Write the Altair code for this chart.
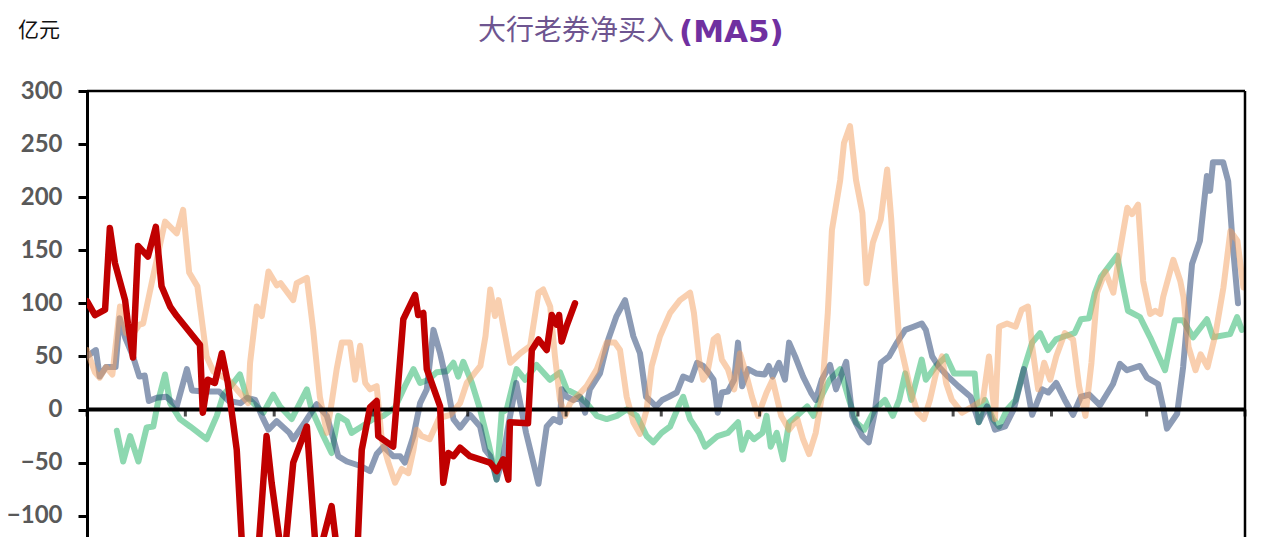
import altair as alt
import pandas as pd

# ---- data: (day of year, value in 亿元) ----
month_starts = [0, 31, 59, 90, 120, 151, 181, 212, 243, 273, 304, 334, 365]
y_ticks = [-100, -50, 0, 50, 100, 150, 200, 250, 300]

red = [(0,102),(2.5,89),(5.7,94),(7.2,171),(8.8,138),(12,103),(12.9,81),(14.5,49),(16.1,154),(19.2,144),
       (21.7,172),(23.5,116),(26.2,97),(28.3,88),(35.6,61),(36.5,-3),(38.1,28),(40.3,25),(42.5,53),(44.4,25),
       (47.2,-38),(48.9,-130),(53,-175),(56.6,-25),(58.2,-69),(61.9,-150),(65,-50),(69.3,-16),(72.4,-145),
       (77.1,-91),(79.7,-155),(85,-150),(86.6,-38),(89.2,2),(91.3,8),(91.8,-25),(96.5,-35),(99.7,85),(103.4,108),
       (104.4,89),(106,91),(107.1,38),(111.3,3),(112.3,-69),(113.9,-41),(115.5,-44),(117.6,-36),(120.7,-44),
       (127,-50),(129.1,-58),(131.2,-47),(132.8,-66),(133.3,-12),(139,-13),(140.2,56),(142.3,66),(144.9,56),
       (146.5,89),(148,80),(148.8,89),(149.6,64),(151.2,79),(153.8,100)]

peach = [(0,56),(2.5,35),(4,30),(6,40),(8,33),(10.4,97),(12.3,72),(14.2,70),(16.5,80),(17.7,81),(20.8,125),
         (24.6,177),(28.3,166),(30.3,188),(32.2,129),(34.8,116),(37.7,50),(39.8,36),(44.5,28),(49.2,12),(50.8,6),
         (51.4,44),(53.5,97),(55.1,88),(57.2,130),(59.8,117),(61,119),(65,103),(66.1,119),(69.3,124),(71.3,75),
         (73.4,12),(75.6,-22),(77.1,6),(78.7,38),(80.3,63),(82.9,63),(84.5,28),(86.1,60),(87.7,25),(89.2,19),
         (91.3,22),(92.9,-28),(95,-50),(97.1,-69),(99.2,-56),(101.3,-60),(102.9,-38),(103.9,-19),(105.5,-25),
         (108,-28),(111,-8),(114.5,-5),(117.6,6),(119.7,25),(124,41),(125.6,69),(127.1,113),(128.6,88),
         (129.7,103),(133.4,44),(136.6,53),(139.7,60),(142.3,110),(143.8,113),(146,97),(147.5,50),(149.1,9),
         (150.7,-6),(152.3,6),(154.4,12),(157.5,22),(160.7,38),(163.8,63),(166.4,63),(168,56),(170.1,12),
         (172.2,-12),(174.3,-23),(176.4,0),(178,41),(180.6,69),(183.8,91),(186.9,103),(190.1,110),(191.3,91),
         (192.9,47),(194.2,28),(195.5,34),(197.5,66),(198.8,69),(200.1,47),(202,38),(204,19),(205.8,53),
         (207.7,34),(209.6,12),(211.5,-6),(214.2,16),(216.1,28),(218.8,-6),(221.3,-19),(223.9,-9),(225.7,-28),
         (227.6,-42),(229.7,-22),(231.6,12),(233.5,91),(234.8,169),(237.4,216),(238.6,251),(240.5,267),
         (242.4,216),(244.4,185),(245.7,119),(247.7,157),(250.2,179),(252.2,226),(253.5,179),(254.7,122),
         (256,66),(257.9,41),(259.8,16),(261.8,-3),(263.8,-9),(265.7,9),(267.6,34),(269.5,50),(270.8,25),
         (272.6,9),(275.8,-3),(279.2,3),(282.4,9),(284.3,50),(286.2,-9),(287.5,78),(290,81),(292.7,78),
         (294.6,94),(296.6,97),(297.9,60),(299.8,19),(301.7,44),(303.6,28),(305.5,50),(308.2,72),(310.8,66),
         (312.7,22),(314.7,-6),(316.6,44),(318.4,110),(321,130),(323.5,110),(325.6,150),(327.9,190),(329.4,184),
         (331.3,193),(332.9,121),(335.1,90),(336.7,93),(338.3,90),(339.2,106),(342.4,141),(344.6,121),
         (345.6,106),(347.2,59),(349.4,37),(351,52),(353.2,40),(355.7,71),(358.2,115),(360.4,168),(362.6,159),
         (364.5,115)]

blue = [(0,50),(2.8,56),(4,31),(6,40),(9,40),(10.3,86),(12,68),(14.5,50),(16.5,31),(18.2,32),(19.5,8),(22,11),
        (25,12),(28.3,3),(31.5,38),(33.1,18),(36.8,17),(41.6,17),(44.7,8),(48.4,6),(50.5,11),(53,9),(55.1,-6),
        (57.2,-19),(59.8,-11),(63.8,-22),(65,-28),(68.7,-12),(72.4,5),(75.6,-6),(79.2,-44),(81.9,-49),(86,-53),
        (89.2,-58),(91.3,-42),(93.4,-35),(96.5,-44),(98.7,-44),(100.2,-50),(102.9,-25),(105,6),(107.1,19),
        (109.2,75),(111.3,53),(113.4,25),(115.5,-9),(117.6,-17),(120.7,-5),(123.9,-16),(125.5,-38),(127.1,-44),
        (129.1,-66),(131.2,-45),(132.5,-20),(135.3,25),(138.4,-22),(142.3,-70),(144.9,-16),(147,-9),(149.1,-12),
        (149.6,19),(151.2,12),(153.3,9),(155.4,12),(157,-3),(158.5,19),(161.7,34),(164.3,66),(166.9,88),
        (169.6,103),(172.2,69),(174.3,53),(176.2,12),(179.4,3),(181.3,9),(183.4,12),(185.9,16),(187.9,31),
        (190.4,28),(192.3,44),(194.2,41),(196.1,34),(197.5,28),(198.8,-3),(200.1,16),(202,17),(204,28),
        (205.2,63),(206.5,22),(208.4,38),(210.9,34),(213.6,33),(214.9,41),(216.1,31),(218.1,44),(220,28),
        (221.3,63),(223.2,50),(225.7,31),(228.2,16),(229.7,9),(231.6,28),(234.2,42),(236.1,19),(239.3,45),
        (241.2,-6),(244.4,-25),(246.4,-31),(248.3,-3),(250.2,44),(252.8,50),(255.3,63),(257.9,75),(260.5,78),
        (263.1,81),(264.4,75),(266.4,50),(268.3,41),(271.4,31),(274.6,22),(278.5,12),(281.1,-12),(283.7,3),
        (286.2,-19),(289.4,-16),(292.1,0),(295.3,38),(297.9,-5),(301.1,19),(303,16),(305.5,25),(308.2,9),
        (310.8,-5),(313.3,12),(315.9,14),(319.3,4),(323.4,24),(325.6,43),(327.8,37),(331.9,41),(334.1,30),
        (337.6,24),(339.2,2),(340.4,-18),(343.6,-4),(345.5,40),(348.3,137),(350.8,159),(353,220),(354,206),
        (354.9,233),(358.1,233),(359.7,215),(361.2,153),(362.8,100)]

green = [(9.4,-20),(11.4,-49),(13.6,-25),(16.2,-49),(18.8,-17),(20.9,-16),(22.5,9),(24.6,33),(26.2,6),
         (29.3,-9),(32.5,-16),(37.7,-28),(40.9,-6),(43,14),(44.5,19),(48.2,33),(50.3,12),(52.4,6),(55.6,-3),
         (58.7,14),(60.8,3),(64.5,-9),(69.3,19),(70.8,0),(74.5,-25),(77.1,-41),(79.2,-6),(81.9,-11),(83.4,-22),
         (86.6,-16),(90.2,-9),(93.4,-6),(97.1,2),(100.2,22),(102.9,38),(105,25),(107.6,28),(110.2,35),
         (113.4,36),(115.5,44),(117,31),(118.6,45),(121.3,25),(123.9,0),(126.5,-31),(129.1,-66),(130.7,-3),
         (132.3,0),(135.4,38),(138.1,28),(141.7,42),(145.9,28),(149.1,35),(151.2,19),(154.4,14),(157.5,6),
         (160.7,-6),(163.8,-9),(167,-6),(170.1,0),(173.3,-6),(176.4,-25),(178.5,-31),(181.1,-22),(183.8,-16),
         (186.9,6),(187.9,12),(190.1,-9),(192.9,-22),(194.8,-35),(198.8,-25),(202,-22),(205.2,-12),(206.5,-38),
         (208.4,-22),(210.2,-28),(212.9,-22),(214.2,-6),(215.5,-35),(217.4,-22),(219.4,-47),(221.3,-12),
         (223.8,-6),(227,3),(229,-6),(230.9,9),(234.1,28),(237.4,38),(239.9,12),(242.4,-12),(245,-19),
         (248.3,0),(251.5,9),(254,-6),(256,9),(257.9,34),(259.8,9),(263.1,47),(264.4,28),(267.6,41),(270.8,50),
         (273.3,34),(279.8,34),(281.1,-12),(283,9),(285.6,-9),(287.5,-16),(290,0),(292.7,9),(295.3,38),
         (297.9,63),(300.4,72),(302.9,56),(305.4,66),(308.1,69),(311.3,72),(313.3,85),(315.8,86),(317.7,110),
         (319.6,125),(324.7,145),(326.6,115),(328.1,93),(331.9,87),(335.1,68),(339.8,37),(342.9,84),(345.5,84),
         (348.6,68),(353,85),(354.9,68),(360.3,71),(362.5,87),(364,75)]

title_cn = "大行老券净买入"
title_en = "(MA5)"
unit_label = "亿元"

# ---- layout ----
W, H = 1158, 446
Y_MAX = 300
X_MAX = 365
PX_PER_UNIT = 318.5 / 300.0
Y_MIN = -(H - 318.5) / PX_PER_UNIT

x_scale = alt.Scale(domain=[0, X_MAX], nice=False, zero=False)
y_scale = alt.Scale(domain=[Y_MIN, Y_MAX], nice=False, zero=False)

rows = []
for name, pairs in [("g", green), ("b", blue), ("p", peach), ("r", red)]:
    for d, v in pairs:
        rows.append({"series": name, "day": d, "value": v})
df = pd.DataFrame(rows)

y_axis = alt.Axis(
    values=y_ticks, grid=False, title=None, domain=True, domainColor="black",
    domainWidth=3, ticks=True, tickColor="black", tickWidth=3, tickSize=9,
    labelFont="Lato", labelFontSize=24, labelFontWeight="bold",
    labelColor="#595959", labelPadding=16)


def line(name, color, opacity, width):
    return alt.Chart(df).transform_filter(alt.datum.series == name).mark_line(
        color=color, opacity=opacity, strokeWidth=width, strokeJoin="round",
        strokeCap="round", clip=True
    ).encode(
        x=alt.X("day:Q", scale=x_scale, axis=None),
        y=alt.Y("value:Q", scale=y_scale, axis=y_axis),
    )


green_line = line("g", "#1BB161", 0.5, 6)
blue_line = line("b", "#19376B", 0.5, 6)
peach_line = line("p", "#F39F5F", 0.5, 6)
red_line = line("r", "#C00000", 1.0, 6.5)

zero_rule = alt.Chart(pd.DataFrame({"value": [0]})).mark_rule(
    color="black", strokeWidth=4).encode(y=alt.Y("value:Q", scale=y_scale, axis=y_axis))
top_rule = alt.Chart(pd.DataFrame({"value": [Y_MAX]})).mark_rule(
    color="black", strokeWidth=2.5).encode(y=alt.Y("value:Q", scale=y_scale, axis=y_axis))
right_rule = alt.Chart(pd.DataFrame({"day": [X_MAX]})).mark_rule(
    color="black", strokeWidth=2.5).encode(x=alt.X("day:Q", scale=x_scale, axis=None))

# month tick marks hanging below the zero line
month_ticks = alt.Chart(pd.DataFrame({"day": month_starts})).mark_tick(
    color="black", thickness=3, size=7, orient="vertical", yOffset=3.5
).encode(
    x=alt.X("day:Q", scale=x_scale, axis=None),
    y=alt.datum(0, scale=y_scale),
)

t_cn = alt.Chart(pd.DataFrame({"t": [title_cn]})).mark_text(
    align="right", baseline="middle", font="Noto Sans CJK SC", fontSize=28, color="#6E5590",
    x=587, y=-59
).encode(text="t:N")

t_en = alt.Chart(pd.DataFrame({"t": [title_en]})).mark_text(
    align="left", baseline="middle", font="DejaVu Sans", fontWeight="bold", fontSize=31,
    color="#7030A0", x=592, y=-58
).encode(text="t:N")

unit = alt.Chart(pd.DataFrame({"t": [unit_label]})).mark_text(
    align="left", baseline="middle", font="Noto Sans CJK SC", fontSize=21, color="#111111",
    x=-69, y=-60
).encode(text="t:N")

chart = alt.layer(
    green_line, blue_line, peach_line, zero_rule, month_ticks, top_rule, right_rule,
    red_line, t_cn, t_en, unit
).properties(
    width=W, height=H,
    autosize=alt.AutoSizeParams(type="none"),
    padding={"left": 79, "top": 83, "right": 10, "bottom": 0},
    background="white",
).configure_view(stroke=None)

chart.save("out.html", embed_options={"renderer": "svg", "actions": False})
